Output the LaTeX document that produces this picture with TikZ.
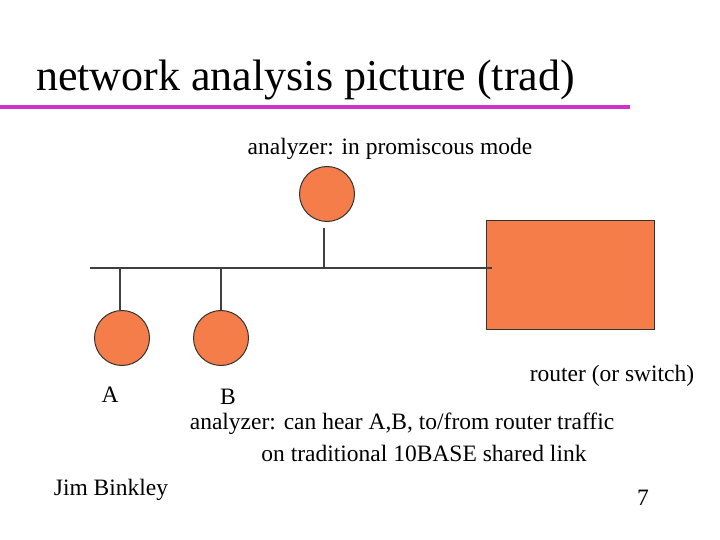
\documentclass[tikz,border=0pt]{standalone}
\usepackage{fontspec}
\setmainfont{Liberation Serif}
\begin{document}
\begin{tikzpicture}[x=1pt,y=-1pt,
  dev/.style={circle,fill=orfill,draw=black!80,line width=1pt,minimum size=55pt,inner sep=0pt},
  txt/.style={inner sep=0pt,font=\fontsize{23.5}{27}\selectfont},
  wire/.style={draw=black!75,line width=1.5pt}]
\definecolor{orfill}{HTML}{F47D4A}
\definecolor{mag}{HTML}{CC33CC}
\useasboundingbox (0,0) rectangle (720,540);
\node[inner sep=0pt,anchor=west,font=\fontsize{44}{50}\selectfont] (title) at (36,80) {network analysis picture (trad)};
\draw[mag,line width=4pt] (0,107) coordinate (l1) -- (630,107) coordinate (l2);
\node[txt] (top) at (390,149) {analyzer: in promiscous mode};
\node[dev] (an) at (327,194) {};
\node[dev] (a) at (122,338) {};
\node[dev] (b) at (221,338) {};
\node[fill=orfill,draw=black!80,line width=1pt,minimum width=168pt,minimum height=108pt,inner sep=0pt] (r) at (570,275) {};
\coordinate (bl) at (90,268);
\coordinate (br) at (492,268);
\draw[wire] (bl) -- (br);
\draw[wire] (324,228) -- (324,268);
\draw[wire] (120,268) -- (120,310);
\draw[wire] (221,268) -- (221,310);
\node[txt] (la) at (110,395) {A};
\node[txt] (lb) at (228,397) {B};
\node[txt] (lr) at (612,376) {router (or switch)};
\node[txt] (l1t) at (402,424) {analyzer: can hear A,B, to/from router traffic};
\node[txt] (l2t) at (424,453) {on traditional 10BASE shared link};
\node[txt] (jb) at (111,490) {Jim Binkley};
\node[txt] (pg) at (643,498) {7};
\end{tikzpicture}
\end{document}
